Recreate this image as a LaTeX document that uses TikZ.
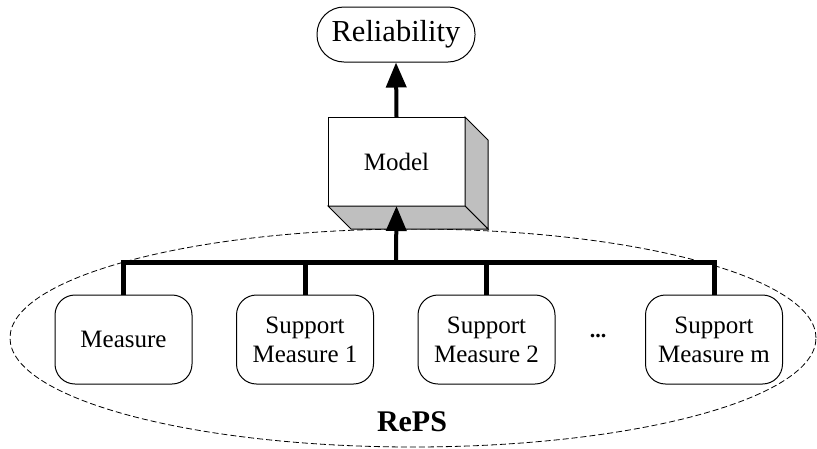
\documentclass[tikz,border=0pt]{standalone}
\usepackage{fontspec}
\setmainfont{Liberation Serif}
\usetikzlibrary{arrows.meta}
\tikzstyle{arrow} = [line width=4pt,-{Triangle[width=20pt,length=25pt]}]
\tikzstyle{bus} = [line width=5pt]
\tikzstyle{measbox} = [draw,line width=1pt,rounded corners=20pt,minimum width=137pt,minimum height=89pt,align=center,font=\fontsize{25}{29}\selectfont]

\begin{document}
\begin{tikzpicture}[x=1pt,y=-1pt]
  \useasboundingbox (0,0) rectangle (817,448);
  \draw[line width=0.8pt,dash pattern=on 6pt off 3pt] (413,338) ellipse [x radius=403pt,y radius=109pt];
  \node[draw,line width=1pt,rounded corners=27pt,minimum width=158pt,minimum height=55pt,font=\fontsize{30.5}{36}\selectfont] (rel) at (396,34.5) {Reliability};
  \node[draw,line width=1pt,fill=white,outer sep=0pt,minimum width=137pt,minimum height=89pt,font=\fontsize{25}{29}\selectfont] (model) at (396.5,161.5) {Model};
  \draw[line width=1pt,fill=gray!50] (model.north east) -- ++(23,23) -- ++(0,89) -- (model.south east) -- cycle;
  \draw[line width=1pt,fill=gray!50] (model.south west) -- ++(23,23) -- ++(137,0) -- (model.south east) -- cycle;
  \node[measbox] (meas) at (123.5,339.5) {Measure};
  \node[measbox] (sm1) at (305,339.5) {Support\\Measure 1};
  \node[measbox] (sm2) at (486.5,339.5) {Support\\Measure 2};
  \node[measbox] (smm) at (714,339.5) {Support\\Measure m};
  \node[font=\fontsize{22}{28}\bfseries] (dots) at (598,336) {...};
  \node[font=\fontsize{30}{36}\bfseries] (reps) at (412,422) {RePS};
  \coordinate (bus) at (396,262);
  \draw[bus] (meas.north) |- (bus) -| (smm.north);
  \foreach \b in {sm1,sm2}
    \draw[bus] (\b.north) -- (\b.north |- bus);
  \draw[arrow] (bus) -- (model.south);
  \draw[arrow] (model.north) -- (rel.south);
\end{tikzpicture}
\end{document}
